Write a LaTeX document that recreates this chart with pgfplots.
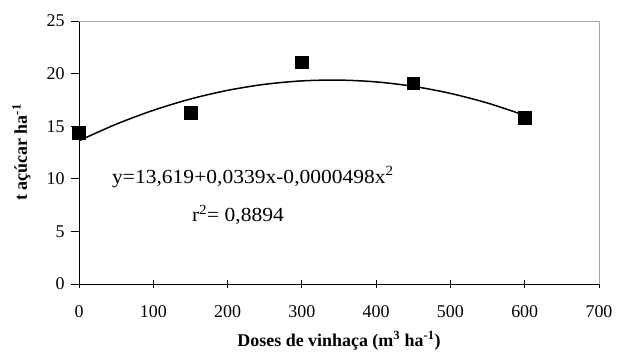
\documentclass[border=0pt]{standalone}
\usepackage{fontspec}
\setmainfont{Liberation Serif}
\newfontfamily\eqfont[FakeStretch=1.08]{Liberation Serif}
\usepackage{pgfplots}
\pgfplotsset{compat=1.18}
\begin{document}
\begin{tikzpicture}
\begin{axis}[
  at={(0,0)}, anchor=origin,
  scale only axis,
  width=520bp, height=263bp,
  xmin=0, xmax=700, ymin=0, ymax=25,
  xtick={0,100,...,700}, ytick={0,5,...,25},
  axis x line*=bottom, axis y line*=left,
  axis line style={-, black, line width=1pt},
  x tick style={black, line width=0.9pt},
  y tick style={black, line width=0.9pt},
  xtick align=center, ytick align=outside,
  major tick length=8bp,
  /pgf/number format/assume math mode=true,
  ticklabel style={font=\fontsize{18}{20}\selectfont},
  xticklabel style={yshift=-14bp},
  yticklabel style={xshift=-3bp},
  xlabel={\textbf{Doses de vinhaça (m\textsuperscript{3} ha\textsuperscript{-1})}},
  ylabel={\textbf{t açúcar ha\textsuperscript{-1}}},
  label style={font=\fontsize{18}{20}\selectfont},
  xlabel style={at={(rel axis cs:0.5,0)}, anchor=base, yshift=-62bp},
  ylabel style={at={(axis description cs:-0.1,0.5)}, anchor=base},
  clip=false,
]
\draw[gray!70, line width=1pt] (rel axis cs:0,1) -- (rel axis cs:1,1) -- (rel axis cs:1,0);
\addplot[black, line width=1.5pt, smooth, no marks] coordinates {
(0,13.619) (50,15.190) (100,16.511) (150,17.584) (200,18.407) (250,18.982)
(300,19.307) (350,19.384) (400,19.211) (450,18.790) (500,18.119) (550,17.200) (600,16.031)};
\addplot[only marks, mark=square*, mark size=6.3bp, black] coordinates {
(0,14.4) (150,16.3) (300,21.1) (450,19.1) (600,15.8)};
\node[anchor=base west, font=\eqfont\fontsize{20}{22}\selectfont, inner sep=0pt] at (axis cs:44.4,9.6) {y=13,619+0,0339x-0,0000498x\textsuperscript{2}};
\node[anchor=base, font=\eqfont\fontsize{20}{22}\selectfont, inner sep=0pt] at (axis cs:214,5.9) {r\textsuperscript{2}= 0,8894};
\end{axis}
\pgfresetboundingbox
\path[use as bounding box] (-79bp,-70bp) rectangle (540bp,284bp);
\end{tikzpicture}
\end{document}
